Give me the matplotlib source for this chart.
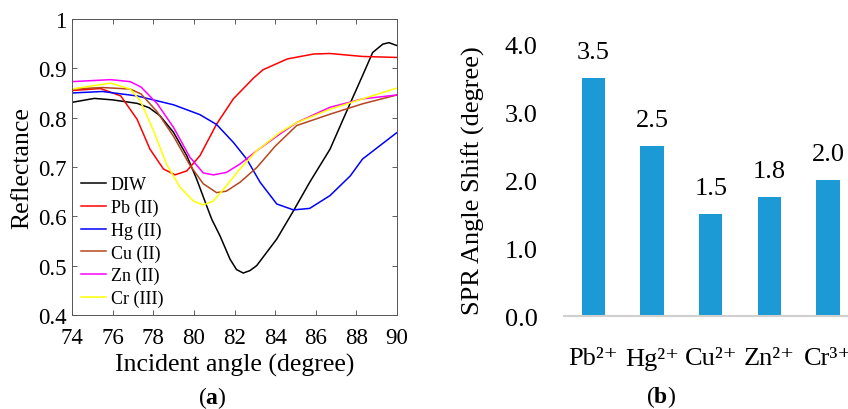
import numpy as np
import matplotlib
matplotlib.use('Agg')
import matplotlib.pyplot as plt

plt.rcParams['font.family'] = ['Liberation Serif', 'DejaVu Serif']
plt.rcParams['mathtext.fontset'] = 'custom'
plt.rcParams['mathtext.rm'] = 'Liberation Serif'
plt.rcParams['mathtext.bf'] = 'Liberation Serif:bold'

# reflectance curves, (angle, reflectance) pairs read per sample
diw_angle = [74, 75.1, 76, 77.2, 77.8, 78.33, 79, 79.65, 80.14, 80.63, 80.88,
             81.29, 81.78, 82.1, 82.43, 82.76, 83.09, 84.08, 84.9, 85.7, 86.7,
             87.5, 88.3, 88.8, 89.3, 89.6, 90]
diw_refl = [0.831, 0.839, 0.836, 0.829, 0.820, 0.804, 0.770, 0.723, 0.675, 0.621,
            0.594, 0.560, 0.513, 0.492, 0.485, 0.490, 0.500, 0.554, 0.611, 0.669,
            0.736, 0.811, 0.885, 0.932, 0.949, 0.952, 0.946]

pb_angle = [74, 75.4, 76.4, 77.2, 77.84, 78.5, 79.07, 79.65, 80.3, 81.12, 81.94,
            82.93, 83.4, 84.6, 85.9, 86.7, 88.3, 90]
pb_refl = [0.855, 0.859, 0.844, 0.797, 0.736, 0.696, 0.684, 0.692, 0.723, 0.787,
           0.838, 0.880, 0.897, 0.919, 0.929, 0.930, 0.924, 0.922]

hg_angle = [74, 75.5, 77.2, 79, 80.3, 81.12, 81.94, 82.6, 83.26, 84.08, 84.9,
            85.7, 86.7, 87.7, 88.3, 90]
hg_refl = [0.850, 0.853, 0.844, 0.826, 0.806, 0.786, 0.750, 0.716, 0.669, 0.625,
           0.613, 0.616, 0.642, 0.682, 0.716, 0.770]

cu_angle = [74, 75.5, 76.86, 77.4, 78.17, 79, 79.8, 80.46, 81.12, 81.6, 82.27,
            83.1, 84.0, 85.06, 86.7, 88.3, 90]
cu_refl = [0.858, 0.861, 0.858, 0.848, 0.813, 0.762, 0.704, 0.666, 0.648, 0.651,
           0.669, 0.699, 0.742, 0.784, 0.807, 0.828, 0.846]

zn_angle = [74, 75.9, 76.86, 77.4, 78.2, 79, 79.8, 80.46, 80.96, 81.6, 82.27,
            83.1, 84.24, 85.06, 86.7, 88.3, 90]
zn_refl = [0.873, 0.877, 0.873, 0.862, 0.828, 0.780, 0.720, 0.688, 0.684, 0.689,
           0.706, 0.733, 0.767, 0.790, 0.821, 0.838, 0.846]

cr_angle = [74, 75.9, 76.86, 77.35, 78.0, 78.66, 79.3, 79.97, 80.46, 80.96, 81.6,
            82.27, 83.1, 84.24, 85.06, 86.7, 88.3, 90]
cr_refl = [0.858, 0.870, 0.858, 0.835, 0.775, 0.705, 0.660, 0.631, 0.623, 0.631,
           0.662, 0.696, 0.733, 0.770, 0.790, 0.817, 0.838, 0.860]

series_labels = ['DIW', 'Pb (II)', 'Hg (II)', 'Cu (II)', 'Zn (II)', 'Cr (III)']
series_colors = ['black', '#FF0000', '#0000FF', '#B4461E', '#FF00FF', '#FFFF00']

# SPR angle shift per ion
ions = ['Pb²⁺', 'Hg²⁺', 'Cu²⁺', 'Zn²⁺', 'Cr³⁺']
shifts = [3.5, 2.5, 1.5, 1.75, 2.0]

fig = plt.figure(figsize=(8.48, 4.10), dpi=100)

# (a) reflectance vs incident angle
ax1 = fig.add_axes([0.0849, 0.2293, 0.3833, 0.7220])
curves = [(diw_angle, diw_refl), (pb_angle, pb_refl), (hg_angle, hg_refl),
          (cu_angle, cu_refl), (zn_angle, zn_refl), (cr_angle, cr_refl)]
for (a, r), lab, col in zip(curves, series_labels, series_colors):
    ax1.plot(a, r, color=col, lw=1.1, label=lab, solid_joinstyle='round')
ax1.set_xlim(74, 90)
ax1.set_ylim(0.4, 1.0)
ax1.set_xticks(np.arange(74, 91, 2))
ax1.set_yticks([0.4, 0.5, 0.6, 0.7, 0.8, 0.9, 1.0])
ax1.set_yticklabels(['0.4', '0.5', '0.6', '0.7', '0.8', '0.9', '1'])
ax1.tick_params(direction='in', top=True, right=True, length=3.5, width=0.6,
                color='#444444', labelsize=16.5)
ax1.tick_params(axis='x', pad=8.5)
ax1.tick_params(axis='y', pad=4)
for s in ax1.spines.values():
    s.set_color('#555555')
    s.set_linewidth(0.7)
ax1.set_xlabel('Incident angle (degree)', fontsize=18.5, labelpad=4)
ax1.set_ylabel('Reflectance', fontsize=18.5, labelpad=3)
ax1.legend(loc='lower left', bbox_to_anchor=(-0.005, -0.01), frameon=False,
           fontsize=13, handlelength=1.35, handletextpad=0.3, labelspacing=0.3,
           borderaxespad=0.2)

# (b) angle shift bars
ax2 = fig.add_axes([0.6651, 0.2268, 0.3461, 0.6634])
x = np.arange(len(ions))
ax2.bar(x, shifts, width=0.4, color='#1C9AD6', zorder=2)
for xi, v in zip(x, shifts):
    ax2.annotate(f'{v:.1f}', (xi, v), xytext=(0, 11), textcoords='offset points',
                 ha='center', va='bottom', fontsize=19)
ax2.set_xlim(-0.5, 4.5)
ax2.set_ylim(0, 4.0)
ax2.set_yticks([0, 1, 2, 3, 4])
ax2.set_yticklabels(['0.0', '1.0', '2.0', '3.0', '4.0'])
ax2.set_xticks(x)
ax2.set_xticklabels(ions)
ax2.tick_params(axis='both', length=0, labelsize=19)
ax2.tick_params(axis='y', pad=19)
ax2.tick_params(axis='x', pad=22)
for side in ['left', 'right', 'top']:
    ax2.spines[side].set_visible(False)
ax2.spines['bottom'].set_color('#D0D0D0')
ax2.spines['bottom'].set_linewidth(1.5)
ax2.set_ylabel('SPR Angle Shift (degree)', fontsize=19, labelpad=14)

fig.text(0.25, 0.029, r'($\mathbf{a}$)', ha='center', va='center', fontsize=17)
fig.text(0.78, 0.031, r'($\mathbf{b}$)', ha='center', va='center', fontsize=17)

fig.savefig('out.png', dpi=100)
